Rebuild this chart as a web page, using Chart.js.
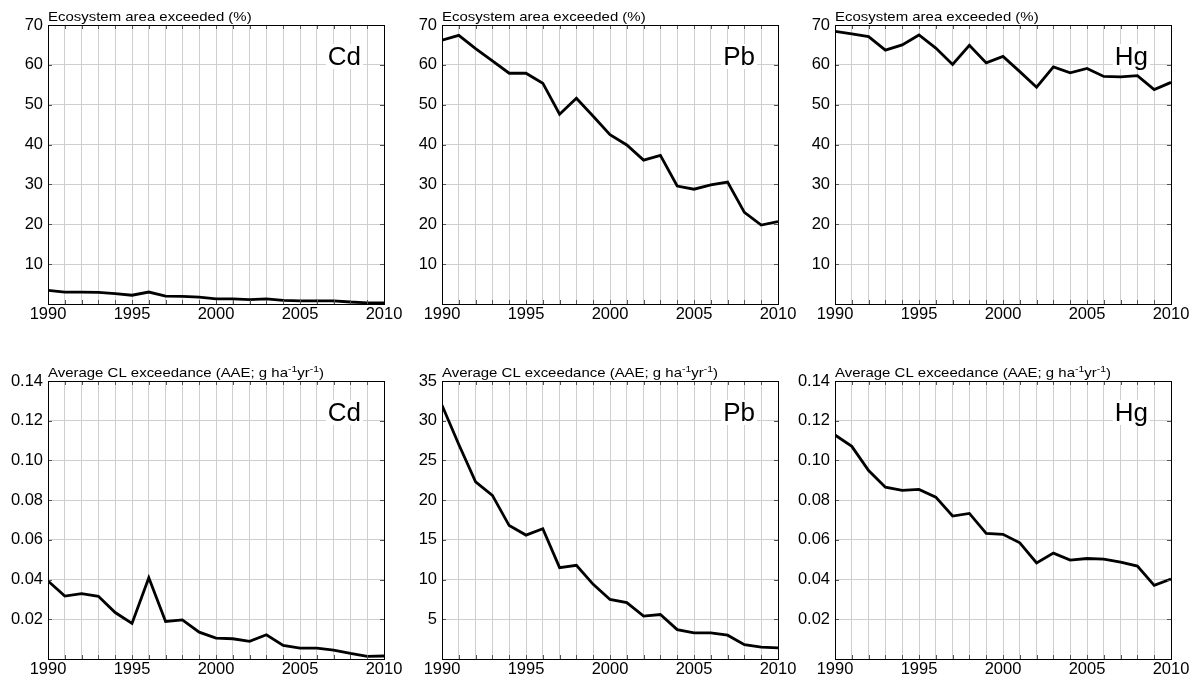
<!DOCTYPE html>
<html lang="en">
  <head>
    <meta charset="UTF-8" />
    <title>Heavy metal critical load exceedances</title>
    <script src="https://cdn.jsdelivr.net/npm/chart.js"></script>
    <style>
      body {
        margin: 0;
        background: #fff;
        width: 1198px;
        height: 682px;
        overflow: hidden;
        position: relative;
      }
      .panel {
        position: absolute;
      }
    </style>
  </head>
  <body>
    <div class="panel" style="left: 0px; top: 0px"><canvas id="cdArea" width="404" height="330"></canvas></div>
    <div class="panel" style="left: 395px; top: 0px"><canvas id="pbArea" width="403" height="330"></canvas></div>
    <div class="panel" style="left: 790px; top: 0px"><canvas id="hgArea" width="401" height="330"></canvas></div>
    <div class="panel" style="left: 0px; top: 335px"><canvas id="cdAae" width="404" height="347"></canvas></div>
    <div class="panel" style="left: 395px; top: 335px"><canvas id="pbAae" width="403" height="347"></canvas></div>
    <div class="panel" style="left: 790px; top: 335px"><canvas id="hgAae" width="401" height="347"></canvas></div>

    <script>
      // data
      const years = [1990, 1991, 1992, 1993, 1994, 1995, 1996, 1997, 1998, 1999, 2000,
        2001, 2002, 2003, 2004, 2005, 2006, 2007, 2008, 2009, 2010];

      // ecosystem area exceeded (%)
      const cdArea = [3.4, 3.0, 3.0, 2.9, 2.6, 2.2, 3.0, 2.0, 1.9, 1.7, 1.3, 1.3, 1.1, 1.3, 0.9, 0.8, 0.8, 0.8, 0.5, 0.3, 0.3];
      const pbArea = [66.2, 67.4, 64.1, 61.0, 57.9, 57.9, 55.4, 47.6, 51.6, 47.1, 42.5, 39.9, 36.1, 37.3, 29.6, 28.8, 29.9, 30.6, 23.0, 19.8, 20.7];
      const hgArea = [68.4, 67.8, 67.1, 63.7, 65.0, 67.5, 64.2, 60.1, 64.9, 60.5, 62.1, 58.3, 54.4, 59.5, 58.0, 59.1, 57.1, 57.0, 57.3, 53.8, 55.6];

      // average accumulated exceedance (g ha-1 yr-1)
      const cdAae = [0.0393, 0.0317, 0.0329, 0.0316, 0.0234, 0.0179, 0.0409, 0.0189, 0.0197, 0.0135, 0.0105, 0.0102, 0.0089, 0.0122, 0.0068, 0.0055, 0.0055, 0.0045, 0.0028, 0.0013, 0.0015];
      const pbAae = [31.95, 27.0, 22.3, 20.6, 16.8, 15.6, 16.4, 11.5, 11.8, 9.4, 7.5, 7.1, 5.4, 5.6, 3.7, 3.3, 3.3, 3.0, 1.8, 1.5, 1.4];
      const hgAae = [0.1128, 0.1071, 0.0949, 0.0865, 0.0849, 0.0854, 0.0815, 0.0720, 0.0733, 0.0633, 0.0628, 0.0585, 0.0484, 0.0533, 0.0498, 0.0506, 0.0503, 0.0488, 0.0468, 0.0371, 0.0403];

      const areaTitle = [{ t: "Ecosystem area exceeded (%)" }];
      const aaeTitle = [
        { t: "Average CL exceedance (AAE; g ha" },
        { t: "-1", sup: true },
        { t: "yr" },
        { t: "-1", sup: true },
        { t: ")" },
      ];

      const FONT = '"Liberation Sans", Arial, sans-serif';

      const panelPlugin = {
        id: "panelDecor",
        beforeDatasetsDraw(chart, args, opts) {
          const { ctx, chartArea: a } = chart;
          // metal label on a white box
          ctx.save();
          ctx.font = "26px " + FONT;
          ctx.textAlign = "right";
          ctx.textBaseline = "alphabetic";
          const w = ctx.measureText(opts.metal).width;
          const xr = a.right - 23;
          const yb = a.top + 40;
          ctx.fillStyle = "#fff";
          ctx.fillRect(xr - w - 2, yb - 21, w + 4, 25);
          ctx.fillStyle = "#000";
          ctx.fillText(opts.metal, xr, yb);
          ctx.restore();
        },
        afterDraw(chart, args, opts) {
          const { ctx, chartArea: a, scales } = chart;
          ctx.save();
          // inward tick marks
          ctx.strokeStyle = "#555";
          ctx.lineWidth = 1;
          ctx.beginPath();
          scales.x.ticks.forEach((t) => {
            const x = Math.round(scales.x.getPixelForValue(t.value)) + 0.5;
            ctx.moveTo(x, a.top);
            ctx.lineTo(x, a.top + 4);
            ctx.moveTo(x, a.bottom);
            ctx.lineTo(x, a.bottom - 4);
          });
          scales.y.ticks.forEach((t) => {
            const y = Math.round(scales.y.getPixelForValue(t.value)) + 0.5;
            ctx.moveTo(a.left, y);
            ctx.lineTo(a.left + 4, y);
            ctx.moveTo(a.right, y);
            ctx.lineTo(a.right - 4, y);
          });
          ctx.stroke();
          // frame
          ctx.strokeStyle = "#000";
          ctx.strokeRect(Math.round(a.left) + 0.5, Math.round(a.top) + 0.5,
            Math.round(a.width), Math.round(a.height));
          // title with superscripts
          ctx.fillStyle = "#000";
          ctx.textBaseline = "alphabetic";
          ctx.translate(a.left, a.top - 4);
          ctx.scale(1.1, 1);
          let cx = 0;
          opts.title.forEach((p) => {
            ctx.font = (p.sup ? "9.5px " : "13.6px ") + FONT;
            ctx.fillText(p.t, cx, p.sup ? -5 : 0);
            cx += ctx.measureText(p.t).width;
          });
          ctx.restore();
        },
      };

      function makePanel(id, values, yMax, yStep, fmt, metal, title, yWidth, xHeight, padTop) {
        const points = years.map((yr, i) => ({ x: yr, y: values[i] }));
        new Chart(document.getElementById(id), {
          type: "line",
          data: {
            datasets: [
              {
                data: points,
                borderColor: "#000",
                borderWidth: 2.8,
                pointRadius: 0,
                tension: 0,
                fill: false,
              },
            ],
          },
          options: {
            responsive: false,
            animation: false,
            layout: { padding: { top: padTop, right: 20, left: 0, bottom: 0 } },
            plugins: {
              legend: { display: false },
              tooltip: { enabled: false },
              panelDecor: { metal: metal, title: title },
            },
            scales: {
              x: {
                type: "linear",
                min: 1990,
                max: 2010,
                afterFit: (s) => { s.height = xHeight; },
                grid: { color: "#cfcfcf", lineWidth: 1, drawTicks: false },
                border: { display: false },
                ticks: {
                  stepSize: 1,
                  autoSkip: false,
                  maxRotation: 0,
                  padding: 1,
                  color: "#000",
                  font: { family: FONT, size: 16.5 },
                  callback: (v) => (v % 5 === 0 ? String(v) : ""),
                },
              },
              y: {
                min: 0,
                max: yMax,
                afterFit: (s) => { s.width = yWidth; },
                grid: { color: "#cfcfcf", lineWidth: 1, drawTicks: false },
                border: { display: false },
                ticks: {
                  stepSize: yStep,
                  padding: 5,
                  color: "#000",
                  font: { family: FONT, size: 16.5 },
                  callback: (v) => (Math.abs(v) < 1e-9 ? "" : fmt(v)),
                },
              },
            },
          },
          plugins: [panelPlugin],
        });
      }

      const whole = (v) => String(Math.round(v));
      const twoDec = (v) => v.toFixed(2);

      makePanel("cdArea", cdArea, 70, 10, whole, "Cd", areaTitle, 48, 26, 25);
      makePanel("pbArea", pbArea, 70, 10, whole, "Pb", areaTitle, 47, 26, 25);
      makePanel("hgArea", hgArea, 70, 10, whole, "Hg", areaTitle, 45, 26, 25);
      makePanel("cdAae", cdAae, 0.14, 0.02, twoDec, "Cd", aaeTitle, 48, 23, 46);
      makePanel("pbAae", pbAae, 35, 5, whole, "Pb", aaeTitle, 47, 23, 46);
      makePanel("hgAae", hgAae, 0.14, 0.02, twoDec, "Hg", aaeTitle, 45, 23, 46);
    </script>
  </body>
</html>
